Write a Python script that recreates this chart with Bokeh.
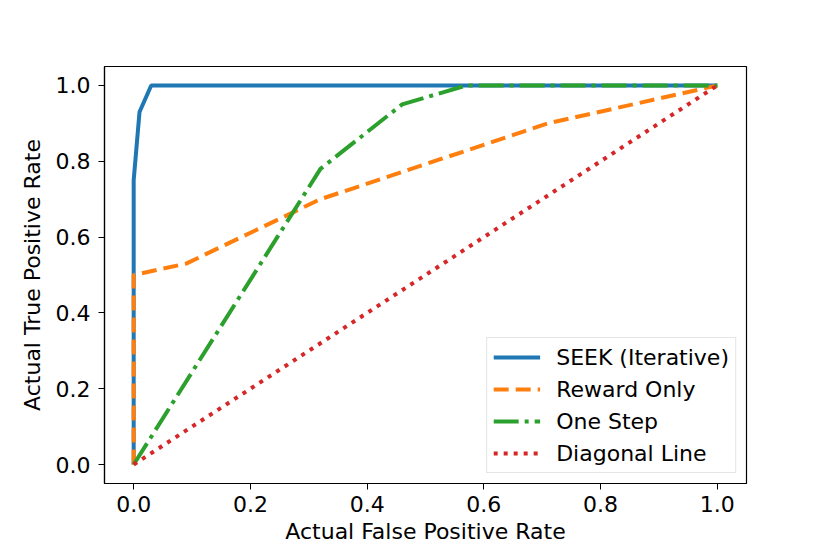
from bokeh.plotting import figure
from bokeh.models import Range1d, Legend, LegendItem, FixedTicker
from bokeh.embed import file_html
from bokeh.resources import INLINE

# ---- data ----
seek_fpr = [0.0, 0.0, 0.01, 0.03, 1.0]
seek_tpr = [0.0, 0.75, 0.93, 1.0, 1.0]
reward_fpr = [0.0, 0.0, 0.09, 0.32, 0.71, 1.0]
reward_tpr = [0.0, 0.5, 0.53, 0.70, 0.90, 1.0]
onestep_fpr = [0.0, 0.32, 0.46, 0.57, 1.0]
onestep_tpr = [0.0, 0.78, 0.95, 1.0, 1.0]
diag_fpr = [0.0, 1.0]
diag_tpr = [0.0, 1.0]
ticks = [0.0, 0.2, 0.4, 0.6, 0.8, 1.0]
tick_labels = ["0.0", "0.2", "0.4", "0.6", "0.8", "1.0"]
series_names = ["SEEK (Iterative)", "Reward Only", "One Step", "Diagonal Line"]

FONT = "DejaVu Sans"
FS = "22px"

p = figure(width=814, height=546, output_backend="svg", toolbar_location=None,
           x_range=Range1d(-0.05, 1.05), y_range=Range1d(-0.05, 1.05),
           min_border_left=104, min_border_right=68, min_border_top=66, min_border_bottom=62)

p.grid.visible = False
p.outline_line_color = "black"
p.outline_line_width = 1.2
p.background_fill_color = "white"
p.border_fill_color = "white"

r1 = p.line(seek_fpr, seek_tpr, line_color="#1f77b4", line_width=4)
r2 = p.line(reward_fpr, reward_tpr, line_color="#ff7f0e", line_width=4, line_dash="15 7")
r3 = p.line(onestep_fpr, onestep_tpr, line_color="#2ca02c", line_width=4, line_dash="25 6 4 6")
r4 = p.line(diag_fpr, diag_tpr, line_color="#d62728", line_width=4, line_dash="4 6")

for ax in (p.xaxis[0], p.yaxis[0]):
    ax.ticker = FixedTicker(ticks=ticks)
    ax.major_label_overrides = {t: l for t, l in zip(ticks, tick_labels)}
    ax.minor_tick_line_color = None
    ax.major_tick_in = 0
    ax.major_tick_out = 6
    ax.major_tick_line_color = "black"
    ax.axis_line_color = "black"
    ax.axis_line_width = 1.2
    ax.major_label_text_font = FONT
    ax.major_label_text_font_size = FS
    ax.major_label_text_color = "black"
    ax.axis_label_text_font = FONT
    ax.axis_label_text_font_size = FS
    ax.axis_label_text_font_style = "normal"
    ax.axis_label_text_color = "black"

p.xaxis[0].axis_label = "Actual False Positive Rate"
p.yaxis[0].axis_label = "Actual True Positive Rate"
p.xaxis[0].major_label_standoff = 6
p.xaxis[0].axis_label_standoff = 4
p.yaxis[0].major_label_standoff = 8
p.yaxis[0].axis_label_standoff = 8

legend = Legend(items=[LegendItem(label=n, renderers=[r]) for n, r in zip(series_names, [r1, r2, r3, r4])],
                location="bottom_right",
                label_text_font=FONT, label_text_font_size=FS, label_text_color="black",
                glyph_width=47, glyph_height=26, label_height=26, label_standoff=16,
                spacing=6, padding=6, margin=10,
                border_line_color="#cccccc", border_line_width=1.5,
                background_fill_color="white", background_fill_alpha=0.8)
p.add_layout(legend, "center")

open("out.html", "w").write(file_html(p, INLINE))
